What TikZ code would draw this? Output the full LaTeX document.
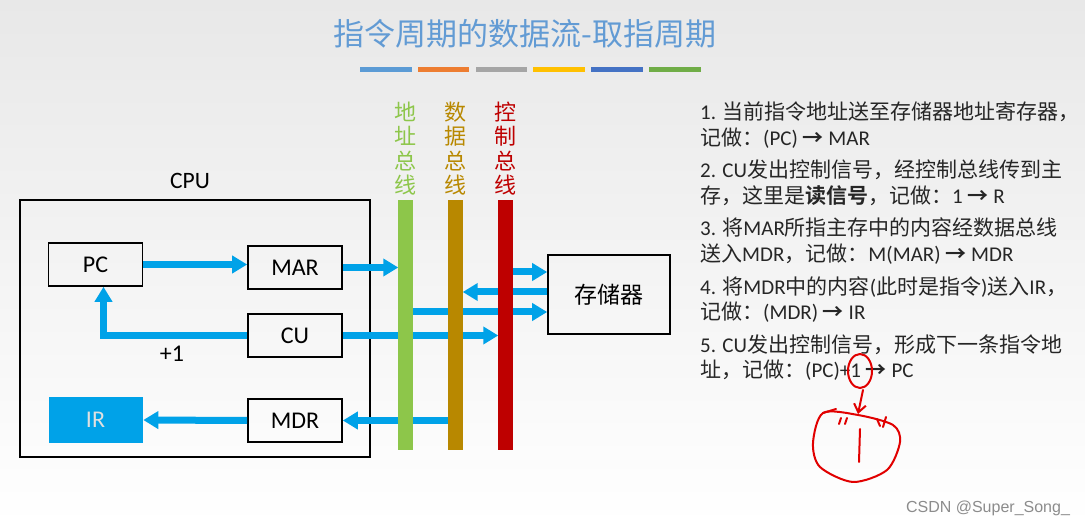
\documentclass[tikz,border=0pt]{standalone}
\usepackage{fontspec}
\setmainfont{Carlito}
\newfontfamily\cjk{Noto Sans CJK SC}[BoldFont={Noto Sans CJK SC Bold}]
\newfontfamily\wmfont{Liberation Sans}
\usetikzlibrary{arrows.meta, positioning}
\definecolor{flowblue}{RGB}{0,162,232}
\definecolor{titleblue}{RGB}{98,155,212}
\definecolor{addrgreen}{RGB}{141,198,74}
\definecolor{datagold}{RGB}{184,136,0}
\definecolor{ctrlred}{RGB}{190,0,0}
\definecolor{inkred}{RGB}{225,0,0}
\definecolor{barA}{RGB}{91,155,213}
\definecolor{barB}{RGB}{237,125,49}
\definecolor{barC}{RGB}{165,165,165}
\definecolor{barD}{RGB}{255,192,0}
\definecolor{barE}{RGB}{68,114,196}
\definecolor{barF}{RGB}{112,173,71}
\newcommand{\zh}[1]{{\cjk #1}}
\newcommand{\goesto}{{\cjk\bfseries →}}

\tikzset{
  reg/.style={draw, line width=1.6pt, minimum width=94pt, minimum height=43pt,
    inner sep=0pt, font=\fontsize{24}{24}\selectfont},
  flow/.style={flowblue, line width=7pt, -{Triangle[length=15pt,width=17pt]}},
  bus/.style={minimum width=14pt, minimum height=250pt, inner sep=0pt},
  buslabel/.style={align=center, inner sep=0pt, font=\cjk\fontsize{22}{24.3}\selectfont},
  note/.style={anchor=base west, inner sep=0pt, text=black!85,
    font=\fontsize{21}{26}\selectfont},
  ink/.style={inkred, line width=2pt, line cap=round, line join=round}
}

\begin{document}
\begin{tikzpicture}[x=1pt,y=-1pt]
\useasboundingbox (0,0) rectangle (1085,526);
\shade[top color=black!9, bottom color=white] (0,0) rectangle (1085,526);

% title and colour bars
\node[font=\cjk\fontsize{31}{31}\selectfont, text=titleblue] (title) at (525,33.5) {指令周期的数据流-取指周期};
\foreach \c [count=\i from 0] in {barA,barB,barC,barD,barE,barF}{
\fill[\c] ({360+57.8*\i},67) rectangle +(51.5,5);
}

% CPU
\node[draw, line width=1.8pt, minimum width=350pt, minimum height=257pt] (cpu) at (195,328.5) {};
\node[font=\fontsize{23.5}{23.5}\selectfont] (cpulabel) at (190,181) {CPU};
\node[reg] (pc) at (95.5,264.5) {PC};
\node[reg] (mar) at (295,267.5) {MAR};
\node[reg] (cu) at (295,335.5) {CU};
\node[reg] (mdr) at (295,420.5) {MDR};
\node[reg, draw=none, fill=flowblue, text=white!88!black, minimum height=46pt] (ir) at (95.5,420) {IR};
\node[font=\fontsize{24}{24}\selectfont] (plusone) at (172,354) {+1};

% buses and memory
\node[bus] (abus) at (405.5,325) {};
\node[bus] (dbus) at (455.5,325) {};
\node[bus] (cbus) at (505.5,325) {};
\node[buslabel, text=addrgreen] (alabel) at (405.5,148.5) {地\\址\\总\\线};
\node[buslabel, text=datagold] (dlabel) at (455.5,148.5) {数\\据\\总\\线};
\node[buslabel, text=ctrlred] (clabel) at (505.5,148.5) {控\\制\\总\\线};
\node[reg, minimum width=122pt, minimum height=79pt, font=\cjk\fontsize{23}{23}\selectfont] (mem) at (609,294.5) {存储器};
\coordinate (m1) at ([yshift=22.5pt]mem.west);
\coordinate (m2) at ([yshift=2.5pt]mem.west);
\coordinate (m3) at ([yshift=-17.5pt]mem.west);

% data flow
\draw[flow] (pc.east) -- (pc.east -| mar.west);
\draw[flow] (mar.east) -- (mar.east -| abus.west);
\draw[flow] (cu.west) -| ([xshift=8pt]pc.south);
\draw[flow] (cu.east) -- (cu.east -| cbus.west);
\draw[flow] (mdr.east -| dbus.west) -- (mdr.east);
\draw[flow] (mdr.west) -- (ir.east);
\draw[flow] (m1 -| cbus.east) -- (m1);
\draw[flow] (m2) -- (m2 -| dbus.east);
\draw[flow] (m3 -| abus.east) -- (m3);

\fill[addrgreen] (abus.north west) rectangle (abus.south east);
\fill[datagold] (dbus.north west) rectangle (dbus.south east);
\fill[ctrlred] (cbus.north west) rectangle (cbus.south east);

% steps
\foreach \y/\t [count=\i] in {
120/{1. \zh{当前指令地址送至存储器地址寄存器，}},
146/{\zh{记做：}(PC) \goesto{} MAR},
178/{2. CU\zh{发出控制信号，经控制总线传到主}},
204/{\zh{存，这里是}\zh{\bfseries 读信号}\zh{，记做：}1 \goesto{} R},
236/{3. \zh{将}MAR\zh{所指主存中的内容经数据总线}},
262/{\zh{送入}MDR\zh{，记做：}M(MAR) \goesto{} MDR},
295/{4. \zh{将}MDR\zh{中的内容}(\zh{此时是指令})\zh{送入}IR\zh{，}},
320/{\zh{记做：}(MDR) \goesto{} IR},
353/{5. CU\zh{发出控制信号，形成下一条指令地}},
378/{\zh{址，记做：}(PC)+1 \goesto{} PC}}{
\node[note] (note\i) at (700,\y) {\t};
}

% red marks
\draw[ink] (860,371) ellipse [x radius=12, y radius=17];
\draw[ink, -{Straight Barb[length=8pt,width=12pt]}] (863,390) -- (858,414);
\draw[ink] plot[smooth cycle] coordinates {(823,413) (858,415) (893,425) (900,442) (887,470) (853,482) (820,467) (813,443)};
\draw[ink] (823,413) -- (836,409);
\draw[ink] (841,418) -- (839,424);
\draw[ink] (847,418) -- (845,424);
\draw[ink] (877,419) -- (880,426);
\draw[ink] (886,417) -- (883,427);
\draw[ink] (860,429) -- (859,462);

\node[font=\wmfont\fontsize{16}{16}\selectfont, text=black!45] (mark) at (988,508) {CSDN @Super\_Song\_};
\end{tikzpicture}
\end{document}
